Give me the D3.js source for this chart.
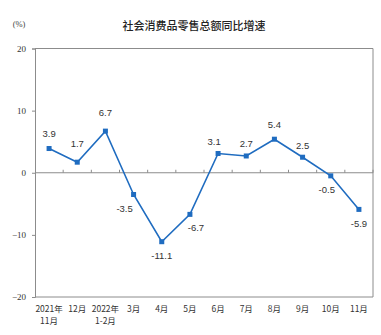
<!DOCTYPE html>
<html>
<head>
<meta charset="utf-8">
<script src="https://cdn.jsdelivr.net/npm/d3@7"></script>
<style>
  html, body { margin: 0; padding: 0; background: #fff; }
  svg { display: block; }
</style>
</head>
<body>
<svg id="chart" width="381" height="335"></svg>
<script>
// Retail sales of consumer goods, year-on-year growth (%)
const monthsLine1 = ["2021年", "12月", "2022年", "3月", "4月", "5月", "6月", "7月", "8月", "9月", "10月", "11月"];
const monthsLine2 = ["11月", "", "1-2月", "", "", "", "", "", "", "", "", ""];
const growth = [3.9, 1.7, 6.7, -3.5, -11.1, -6.7, 3.1, 2.7, 5.4, 2.5, -0.5, -5.9];
const yTicks = [20, 10, 0, -10, -20];
// label offset per point: dx, dy in px
const labelPos = [[0,-15],[0,-19],[0,-19],[-9,14],[0,14],[6,13],[-4,-12],[0,-12],[0,-15],[0,-12],[-4,14],[0,14]];

const svg = d3.select("#chart");
const plotL = 35, plotR = 373, plotT = 48.5, plotB = 297;

const x = d3.scaleBand().domain(d3.range(growth.length)).range([plotL, plotR]);
const y = d3.scaleLinear().domain([-20, 20]).range([plotB, plotT]);

const grey = "#8c8c8c";

// frame: top, right, bottom
svg.append("path")
  .attr("d", `M${plotL},${plotT}H${plotR}V${plotB}H${plotL}`)
  .attr("fill", "none").attr("stroke", grey).attr("stroke-width", 1);

// left value axis
const yAxis = d3.axisLeft(y).tickValues(yTicks).tickSize(3).tickPadding(6);
const gy = svg.append("g").attr("transform", `translate(${plotL},0)`).call(yAxis);
gy.select(".domain").attr("stroke", grey);
gy.selectAll(".tick line").attr("stroke", grey);
gy.selectAll(".tick text")
  .attr("font-family", "Liberation Serif, serif").attr("font-size", 9).attr("fill", "#333");

// zero line with category ticks
const gz = svg.append("g").attr("transform", `translate(0,${y(0)})`);
gz.append("line").attr("x1", plotL).attr("x2", plotR).attr("stroke", grey);
gz.selectAll(".ct").data(d3.range(1, growth.length + 1)).join("line")
  .attr("x1", i => plotL + i * x.bandwidth()).attr("x2", i => plotL + i * x.bandwidth())
  .attr("y1", -3).attr("y2", 0).attr("stroke", grey);

// category labels
const cx = i => x(i) + x.bandwidth() / 2;
const gl = svg.append("g")
  .attr("font-family", "Noto Sans CJK SC, sans-serif").attr("font-size", 8.5)
  .attr("fill", "#333").attr("text-anchor", "middle");
gl.selectAll(".l1").data(monthsLine1).join("text")
  .attr("x", (d, i) => cx(i)).attr("y", 312).text(d => d);
gl.selectAll(".l2").data(monthsLine2).join("text")
  .attr("x", (d, i) => cx(i)).attr("y", 324).text(d => d);

// series line
const blue = "#1f6cc0";
const line = d3.line().x((d, i) => cx(i)).y(d => y(d));
svg.append("path").datum(growth)
  .attr("d", line).attr("fill", "none").attr("stroke", blue).attr("stroke-width", 1.6);
svg.selectAll(".pt").data(growth).join("rect")
  .attr("x", (d, i) => cx(i) - 2.5).attr("y", d => y(d) - 2.5)
  .attr("width", 5).attr("height", 5).attr("fill", blue);

// value labels
svg.append("g")
  .attr("font-family", "Liberation Sans, Arial, sans-serif").attr("font-size", 9.5)
  .attr("fill", "#333").attr("text-anchor", "middle")
  .selectAll("text").data(growth).join("text")
  .attr("x", (d, i) => cx(i) + labelPos[i][0])
  .attr("y", (d, i) => y(d) + labelPos[i][1] + 3.5)
  .text(d => d.toFixed(1));

// title and unit
svg.append("text").attr("x", 194).attr("y", 30).attr("text-anchor", "middle")
  .attr("font-family", "Noto Sans CJK SC, sans-serif").attr("font-size", 11).attr("font-weight", 500).attr("fill", "#222")
  .text("社会消费品零售总额同比增速");
svg.append("text").attr("x", 19).attr("y", 27).attr("text-anchor", "middle")
  .attr("font-family", "Liberation Serif, serif").attr("font-size", 8.5).attr("fill", "#444")
  .text("(%)");
</script>
</body>
</html>
